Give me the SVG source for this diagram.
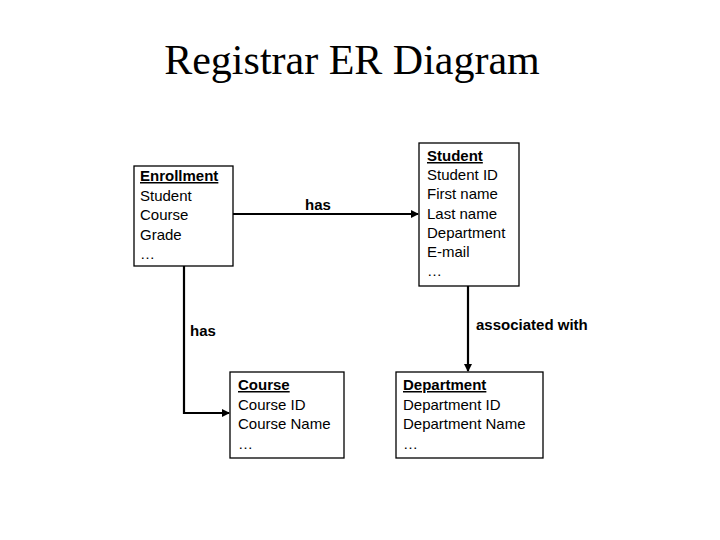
<svg xmlns="http://www.w3.org/2000/svg" width="720" height="540" viewBox="0 0 720 540">
<style>
.box{fill:#fff;stroke:#000;stroke-width:1.3}
.t{font-family:"Liberation Sans",Arial,sans-serif;font-size:15px;fill:#000}
.h{font-weight:bold;text-decoration:underline}
.c{fill:none;stroke:#000;stroke-width:2.2}
.lbl{font-family:"Liberation Sans",Arial,sans-serif;font-size:15px;font-weight:bold}
</style>
<defs><marker id="a" markerWidth="8" markerHeight="8" refX="7" refY="4" orient="auto" markerUnits="userSpaceOnUse"><path d="M0,0 L8,4 L0,8 Z"/></marker></defs>
<rect width="720" height="540" fill="#fff"/>
<text x="352" y="74" text-anchor="middle" font-family="Liberation Serif,serif" font-size="42">Registrar ER Diagram</text>
<g id="connectors">
<path class="c" d="M233,214 H418" marker-end="url(#a)"/>
<text class="lbl" x="318" y="210" text-anchor="middle">has</text>
<path class="c" d="M184,266 V413 H229" marker-end="url(#a)"/>
<text class="lbl" x="190" y="336">has</text>
<path class="c" d="M468,286 V371" marker-end="url(#a)"/>
<text class="lbl" x="476" y="330">associated with</text>
</g>
<g id="enrollment"><rect class="box" x="134" y="166" width="99" height="100"/>
<text class="t" x="140" y="181"><tspan class="h">Enrollment</tspan><tspan x="140" dy="19.5">Student</tspan><tspan x="140" dy="19.5">Course</tspan><tspan x="140" dy="19.5">Grade</tspan><tspan x="140" dy="19.5">…</tspan></text></g>
<g id="student"><rect class="box" x="419" y="143" width="100" height="143"/>
<text class="t" x="427" y="161"><tspan class="h">Student</tspan><tspan x="427" dy="19.2">Student ID</tspan><tspan x="427" dy="19.2">First name</tspan><tspan x="427" dy="19.2">Last name</tspan><tspan x="427" dy="19.2">Department</tspan><tspan x="427" dy="19.2">E-mail</tspan><tspan x="427" dy="19.2">…</tspan></text></g>
<g id="course"><rect class="box" x="230" y="372" width="114" height="86"/>
<text class="t" x="238" y="390"><tspan class="h">Course</tspan><tspan x="238" dy="19.5">Course ID</tspan><tspan x="238" dy="19.5">Course Name</tspan><tspan x="238" dy="19.5">…</tspan></text></g>
<g id="department"><rect class="box" x="396" y="372" width="147" height="86"/>
<text class="t" x="403" y="390"><tspan class="h">Department</tspan><tspan x="403" dy="19.5">Department ID</tspan><tspan x="403" dy="19.5">Department Name</tspan><tspan x="403" dy="19.5">…</tspan></text></g>
</svg>
